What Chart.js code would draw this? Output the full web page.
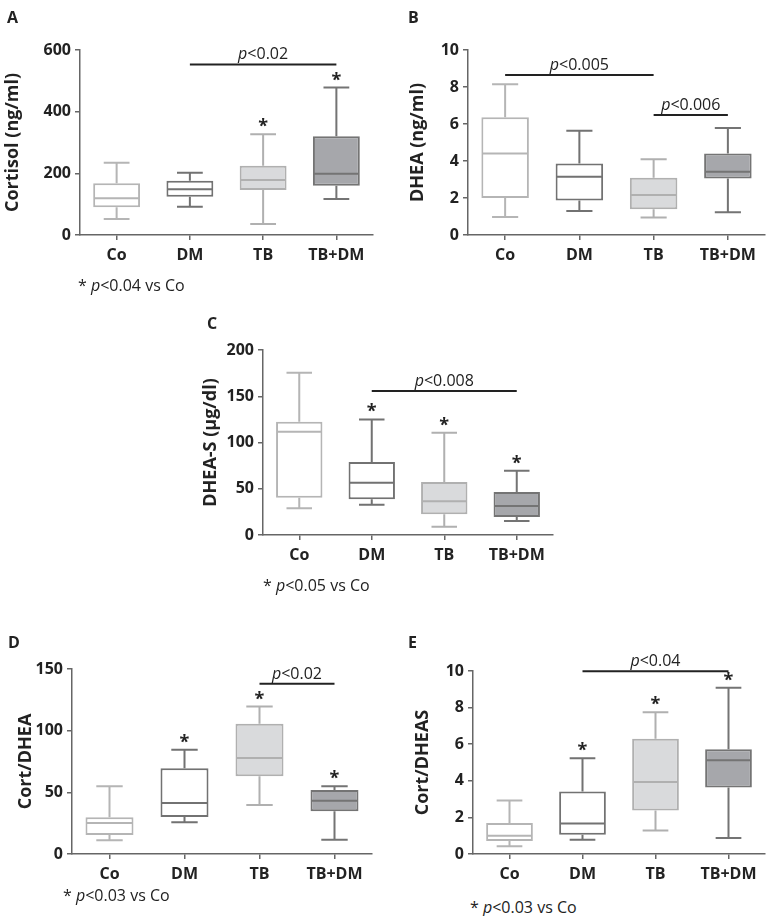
<!DOCTYPE html>
<html>
<head>
<meta charset="utf-8">
<script src="https://cdn.jsdelivr.net/npm/chart.js@4.4.1/dist/chart.umd.min.js"></script>
<style>
  body { margin: 0; background: #fff; font-family: 'Open Sans', sans-serif; color: #222; }
  #wrap { position: relative; width: 767px; height: 916px; }
  canvas { position: absolute; }
  .lbl { position: absolute; font-weight: bold; font-size: 16px; line-height: 16px; }
  .note { position: absolute; font-size: 16px; line-height: 18px; white-space: nowrap; }
</style>
</head>
<body>
<div id="wrap">
  <canvas id="pA" width="380" height="275" style="left:0;top:0"></canvas>
  <canvas id="pB" width="362" height="275" style="left:405px;top:0"></canvas>
  <canvas id="pC" width="362" height="275" style="left:198px;top:300px"></canvas>
  <canvas id="pD" width="362" height="284" style="left:13px;top:610px"></canvas>
  <canvas id="pE" width="357" height="284" style="left:410px;top:610px"></canvas>

  <div class="lbl" style="left:7px;top:9px">A</div>
  <div class="lbl" style="left:408px;top:9px">B</div>
  <div class="lbl" style="left:207px;top:315px">C</div>
  <div class="lbl" style="left:8px;top:634px">D</div>
  <div class="lbl" style="left:408px;top:634px">E</div>

  <div class="note" style="left:78px;top:276px">* <i>p</i>&lt;0.04 vs Co</div>
  <div class="note" style="left:263px;top:576px">* <i>p</i>&lt;0.05 vs Co</div>
  <div class="note" style="left:63px;top:886px">* <i>p</i>&lt;0.03 vs Co</div>
  <div class="note" style="left:470px;top:898px">* <i>p</i>&lt;0.03 vs Co</div>
</div>

<script>
const groups = ['Co', 'DM', 'TB', 'TB+DM'];

// A - cortisol (ng/ml)
const cortMin = [52, 92, 36, 117];
const cortQ1 = [90, 124, 146, 160];
const cortMed = [119, 148, 178, 199];
const cortQ3 = [168, 176, 225, 320];
const cortMax = [234, 202, 327, 478];

// B - DHEA (ng/ml)
const dheaMin = [0.97, 1.30, 0.94, 1.23];
const dheaQ1 = [2.0, 1.87, 1.39, 3.06];
const dheaMed = [4.4, 3.15, 2.16, 3.42];
const dheaQ3 = [6.36, 3.87, 3.1, 4.4];
const dheaMax = [8.15, 5.64, 4.1, 5.78];

// C - DHEA-S (ug/dl)
const dheasMin = [28.8, 32.8, 9, 15.1];
const dheasQ1 = [40.3, 38.6, 22.3, 19.5];
const dheasMed = [111.7, 56.5, 36.4, 31.4];
const dheasQ3 = [122.5, 79, 57.3, 46.5];
const dheasMax = [175.5, 125, 110.6, 69.5];

// D - Cort/DHEA
const cdMin = [11.1, 25.7, 39.7, 11.6];
const cdQ1 = [15.4, 30, 63, 34.6];
const cdMed = [25.1, 41.4, 77.8, 43.2];
const cdQ3 = [29.7, 69.5, 105.7, 51.9];
const cdMax = [54.9, 84.6, 119.5, 54.9];

// E - Cort/DHEAS
const cdsMin = [0.42, 0.78, 1.29, 0.87];
const cdsQ1 = [0.71, 1.05, 2.38, 3.63];
const cdsMed = [1.0, 1.67, 3.94, 5.12];
const cdsQ3 = [1.69, 3.41, 6.3, 5.73];
const cdsMax = [2.92, 5.23, 7.75, 9.09];

// stars (vs Co)
const starsA = [false, false, true, true];
const starsB = [false, false, false, false];
const starsC = [false, true, true, true];
const starsD = [false, true, true, true];
const starsE = [false, true, true, true];

const fills = ['#ffffff', '#ffffff', '#d9dadc', '#a6a7ab'];
const strokes = ['#b5b5b5', '#727272', '#b0b0b0', '#747474'];

const panels = {}

// whiskers, medians, stars and p brackets on top of the floating bars
const boxExtras = {
  id: 'boxExtras',
  afterDatasetsDraw(chart) {
    const p = panels[chart.canvas.id]
    const ctx = chart.ctx
    const y = chart.scales.y
    const meta = chart.getDatasetMeta(0)
    ctx.save()
    ctx.lineWidth = 2
    meta.data.forEach((bar, i) => {
      const cx = bar.x, half = bar.width / 2
      const cap = half * 0.55
      ctx.strokeStyle = strokes[i]
      const yMax = y.getPixelForValue(p.max[i])
      const yQ3 = y.getPixelForValue(p.q3[i])
      const yQ1 = y.getPixelForValue(p.q1[i])
      const yMin = y.getPixelForValue(p.min[i])
      const yMed = y.getPixelForValue(p.med[i])
      ctx.beginPath()
      ctx.moveTo(cx, yQ3); ctx.lineTo(cx, yMax)
      ctx.moveTo(cx - cap, yMax); ctx.lineTo(cx + cap, yMax)
      ctx.moveTo(cx, yQ1); ctx.lineTo(cx, yMin)
      ctx.moveTo(cx - cap, yMin); ctx.lineTo(cx + cap, yMin)
      ctx.moveTo(cx - half + 1, yMed); ctx.lineTo(cx + half - 1, yMed)
      ctx.stroke()
      if (p.stars[i]) {
        ctx.fillStyle = '#222'
        ctx.font = 'bold 18px "Open Sans"'
        ctx.textAlign = 'center'
        ctx.textBaseline = 'alphabetic'
        ctx.fillText('*', cx, yMax - 2)
      }
    })
    p.brackets.forEach(b => {
      const x1 = meta.data[b.from].x, x2 = meta.data[b.to].x
      const yy = y.getPixelForValue(b.at)
      ctx.strokeStyle = '#222'
      ctx.lineWidth = 2
      ctx.beginPath()
      ctx.moveTo(x1, yy); ctx.lineTo(x2, yy)
      ctx.stroke()
      ctx.fillStyle = '#222'
      ctx.textBaseline = 'alphabetic'
      ctx.font = 'italic 16px "Open Sans"'
      const pw = ctx.measureText('p').width
      ctx.font = '16px "Open Sans"'
      const rw = ctx.measureText(b.text).width
      let sx = (x1 + x2) / 2 - (pw + rw) / 2
      ctx.textAlign = 'left'
      ctx.font = 'italic 16px "Open Sans"'
      ctx.fillText('p', sx, yy - 5)
      ctx.font = '16px "Open Sans"'
      ctx.fillText(b.text, sx + pw, yy - 5)
    })
    ctx.restore()
  }
}

function makePanel(id, cfg) {
  panels[id] = cfg
  new Chart(document.getElementById(id), {
    type: 'bar',
    data: {
      labels: groups,
      datasets: [{
        data: cfg.q1.map((v, i) => [v, cfg.q3[i]]),
        backgroundColor: fills,
        borderColor: strokes,
        borderWidth: 2,
        borderSkipped: false,
        barPercentage: 0.64,
        categoryPercentage: 1
      }]
    },
    options: {
      responsive: false,
      animation: false,
      layout: { padding: { top: cfg.top, right: cfg.right, left: 0, bottom: 0 } },
      plugins: { legend: { display: false }, tooltip: { enabled: false } },
      scales: {
        x: {
          offset: true,
          grid: { display: true, offset: false, drawOnChartArea: false, tickLength: 5, color: '#666', lineWidth: 1.5 },
          border: { color: '#666', width: 1.5 },
          ticks: { color: '#222', padding: 6, font: { family: 'Open Sans', weight: 'bold', size: 16 } },
          afterFit(s) { s.height = 40 }
        },
        y: {
          min: 0, max: cfg.max_,
          ticks: { stepSize: cfg.step, color: '#222', padding: 4, font: { family: 'Open Sans', weight: 'bold', size: 16 } },
          grid: { display: true, drawOnChartArea: false, tickLength: 5, color: '#666', lineWidth: 1.5 },
          border: { color: '#666', width: 1.5 },
          title: { display: true, text: cfg.title, color: '#222', padding: { top: 2, bottom: 0 }, font: { family: 'Open Sans', weight: 'bold', size: 18 } },
          afterFit(s) { s.width = cfg.yw }
        }
      }
    },
    plugins: [boxExtras]
  })
}

makePanel('pA', { min: cortMin, q1: cortQ1, med: cortMed, q3: cortQ3, max: cortMax, stars: starsA,
  brackets: [{ from: 1, to: 3, at: 553, text: '<0.02' }],
  max_: 600, step: 200, title: 'Cortisol (ng/ml)', top: 50, right: 7, yw: 80 })

makePanel('pB', { min: dheaMin, q1: dheaQ1, med: dheaMed, q3: dheaQ3, max: dheaMax, stars: starsB,
  brackets: [{ from: 0, to: 2, at: 8.65, text: '<0.005' }, { from: 2, to: 3, at: 6.49, text: '<0.006' }],
  max_: 10, step: 2, title: 'DHEA (ng/ml)', top: 50, right: 2, yw: 63 })

makePanel('pC', { min: dheasMin, q1: dheasQ1, med: dheasMed, q3: dheasQ3, max: dheasMax, stars: starsC,
  brackets: [{ from: 1, to: 3, at: 155.8, text: '<0.008' }],
  max_: 200, step: 50, title: 'DHEA-S (μg/dl)', top: 50, right: 7, yw: 65 })

makePanel('pD', { min: cdMin, q1: cdQ1, med: cdMed, q3: cdQ3, max: cdMax, stars: starsD,
  brackets: [{ from: 2, to: 3, at: 138, text: '<0.02' }],
  max_: 150, step: 50, title: 'Cort/DHEA', top: 59, right: 3, yw: 59 })

makePanel('pE', { min: cdsMin, q1: cdsQ1, med: cdsMed, q3: cdsQ3, max: cdsMax, stars: starsE,
  brackets: [{ from: 1, to: 3, at: 9.98, text: '<0.04' }],
  max_: 10, step: 2, title: 'Cort/DHEAS', top: 61, right: 2, yw: 63 })
</script>
</body>
</html>
